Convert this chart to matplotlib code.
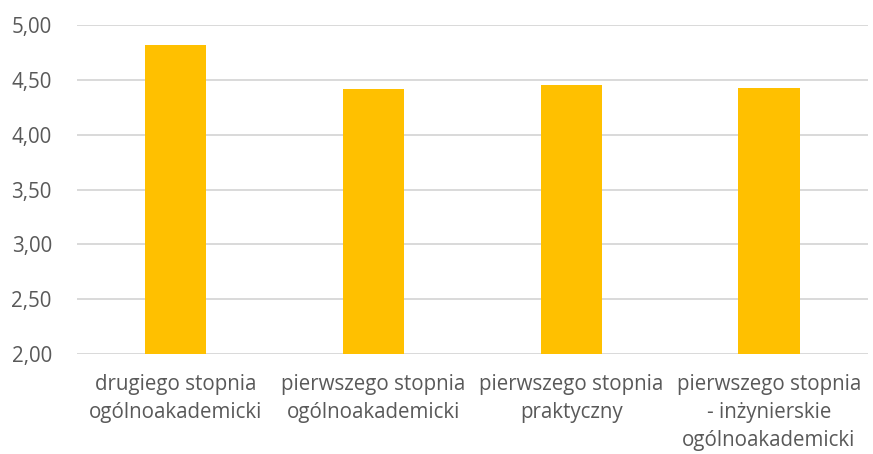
import matplotlib
matplotlib.use('Agg')
import matplotlib.pyplot as plt
from matplotlib.ticker import FuncFormatter, MultipleLocator

plt.rcParams['font.family'] = ['Open Sans', 'DejaVu Sans']

# dane
kategorie = ['drugiego stopnia\nogólnoakademicki',
             'pierwszego stopnia\nogólnoakademicki',
             'pierwszego stopnia\npraktyczny',
             'pierwszego stopnia\n- inżynierskie\nogólnoakademicki']
wartosci = [4.82, 4.42, 4.45, 4.43]

fig = plt.figure(figsize=(8.73, 4.54), dpi=100)
ax = fig.add_axes([0.088, 0.22, 0.906, 0.725])

x = range(len(kategorie))
ax.bar(x, wartosci, width=0.31, color='#FFC000', zorder=3)

ax.set_ylim(2, 5)
ax.set_xlim(-0.5, len(kategorie) - 0.5)
ax.yaxis.set_major_locator(MultipleLocator(0.5))
ax.yaxis.set_major_formatter(FuncFormatter(lambda v, pos: f"{v:.2f}".replace('.', ',')))
ax.grid(axis='y', color='#D9D9D9', linewidth=1.4, zorder=0)

ax.set_xticks(list(x))
ax.set_xticklabels(kategorie, fontsize=14.8, color='#595959', linespacing=1.45)
ax.tick_params(axis='y', labelsize=14.8, labelcolor='#595959', length=0, pad=18)
ax.tick_params(axis='x', length=0, pad=14)
for s in ax.spines.values():
    s.set_visible(False)

fig.savefig('out.png', dpi=100)
plt.close(fig)
